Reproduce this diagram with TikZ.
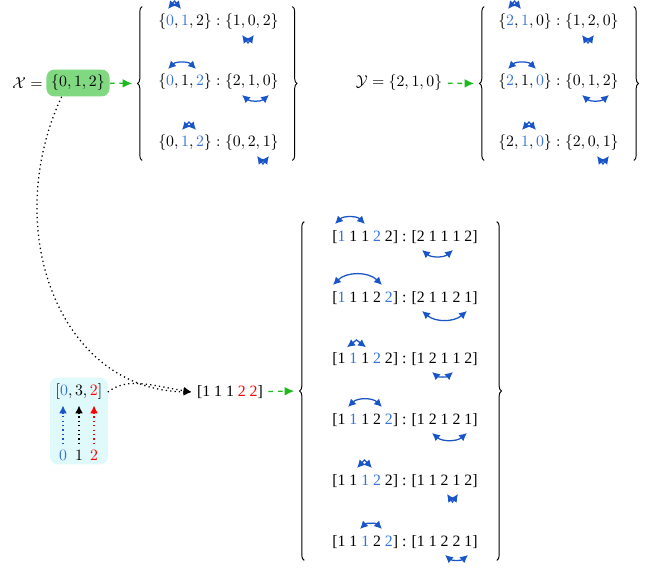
\documentclass[tikz,border=0pt]{standalone}
\usepackage{amsmath}
\usepackage{amssymb}
\usepackage{fontspec}
\usepackage{tikz}
\usetikzlibrary{arrows.meta}
\usetikzlibrary{positioning}
\usetikzlibrary{decorations.pathreplacing}
\newfontfamily\tms{Liberation Serif}
\definecolor{mblue}{RGB}{25, 85, 200}
\definecolor{dblue}{RGB}{55, 115, 215}
\definecolor{mgreen}{RGB}{128, 216, 128}
\definecolor{agreen}{RGB}{30, 185, 30}
\definecolor{mcyan}{RGB}{224, 250, 252}
\newcommand{\bdig}[1]{{\color{dblue}#1}}
\newcommand{\rdig}[1]{{\color{red}#1}}
\tikzset{>={Latex[length=5pt, width=5pt]},
         swp/.style = {mblue, thick, <->},
         gdash/.style = {agreen, thick, dash pattern=on 3pt off 3pt,
                         -{Latex[length=6pt, width=5.5pt]}, shorten >=3pt},
         dcurve/.style = {thick, dotted, ->},
         xbox/.style = {fill=mgreen, rounded corners=5pt, inner xsep=3pt, inner ysep=3.5pt},
         cbox/.style = {fill=mcyan, rounded corners=5pt, minimum width=36.7pt, minimum height=55pt},
         bnode/.style = {inner sep=0pt, minimum width=3pt},
         brc/.style = {semithick, decorate, decoration={brace, amplitude=3pt}},
         setrow/.style = {anchor=west, inner sep=0pt}}

\begin{document}
\begin{tikzpicture}[x=0.633pt, y=-0.633pt]
    \useasboundingbox (0, 0) rectangle (663, 570);

    % X and its swaps
    \node [xbox] (xset) at (78, 83) {$\{0,1,2\}$};
    \node [left=0pt of xset, inner xsep=2pt] (xlab) {$\mathcal{X} =$};
    \node [bnode, minimum height=97pt] (lbx) at (139.5, 83.5) {};
    \node [bnode, minimum height=97pt] (rbx) at (295, 83.5) {};
    \draw [brc] (lbx.south east) -- (lbx.north east);
    \draw [brc] (rbx.north west) -- (rbx.south west);
    \node [setrow] (x1) at (158, 22) {$\{\bdig{0},\bdig{1},2\}:\{1,0,2\}$};
    \node [setrow] (x2) at (158, 82) {$\{\bdig{0},1,\bdig{2}\}:\{2,1,0\}$};
    \node [setrow] (x3) at (158, 143) {$\{0,\bdig{1},\bdig{2}\}:\{0,2,1\}$};
    \draw [gdash] (xset) -- (lbx);

    % Y and its swaps
    \node (yset) at (399, 83) {$\mathcal{Y} = \{2,1,0\}$};
    \node [bnode, minimum height=97pt] (lby) at (481.5, 83.5) {};
    \node [bnode, minimum height=97pt] (rby) at (636.5, 83.5) {};
    \draw [brc] (lby.south east) -- (lby.north east);
    \draw [brc] (rby.north west) -- (rby.south west);
    \node [setrow] (y1) at (498, 22) {$\{\bdig{2},\bdig{1},0\}:\{1,2,0\}$};
    \node [setrow] (y2) at (498, 82) {$\{\bdig{2},1,\bdig{0}\}:\{0,1,2\}$};
    \node [setrow] (y3) at (498, 143) {$\{2,\bdig{1},\bdig{0}\}:\{2,0,1\}$};
    \draw [gdash] (yset) -- (lby);

    % multiplicities
    \node [cbox] (cbx) at (79, 421) {};
    \node (vec0) at (79, 392) {$[\bdig{0},3,\rdig{2}]$};
    \node (i0) at (63, 455) {\bdig{0}};
    \node (i1) at (79, 455) {1};
    \node (i2) at (94, 455) {\rdig{2}};
    \foreach \n/\c in {i0/mblue, i1/black, i2/red}
      \draw [thick, dotted, ->, \c] (\n.north) -- (\n.north |- vec0.south);

    % the multiset and its swaps
    \node (vec) at (230, 392) {\tms [1 1 1 \rdig{2} \rdig{2}]};
    \node [bnode, minimum height=214pt] (lbv) at (301.5, 391) {};
    \node [bnode, minimum height=214pt] (rbv) at (499.5, 391) {};
    \draw [brc] (lbv.south east) -- (lbv.north east);
    \draw [brc] (rbv.north west) -- (rbv.south west);
    \node [setrow] (v1) at (332, 237) {\tms [\bdig{1} 1 1 \bdig{2} 2] : [2 1 1 1 2]};
    \node [setrow] (v2) at (332, 298) {\tms [\bdig{1} 1 1 2 \bdig{2}] : [2 1 1 2 1]};
    \node [setrow] (v3) at (332, 359) {\tms [1 \bdig{1} 1 \bdig{2} 2] : [1 2 1 1 2]};
    \node [setrow] (v4) at (332, 420) {\tms [1 \bdig{1} 1 2 \bdig{2}] : [1 2 1 2 1]};
    \node [setrow] (v5) at (332, 481) {\tms [1 1 \bdig{1} \bdig{2} 2] : [1 1 2 1 2]};
    \node [setrow] (v6) at (332, 542) {\tms [1 1 \bdig{1} 2 \bdig{2}] : [1 1 2 2 1]};
    \draw [gdash] (vec) -- (lbv);

    \draw [dcurve] (xset.220) .. controls +(-62, 133) and +(-132, -2) .. (vec.west);
    \draw [dcurve] (vec0.east) .. controls +(20, -15) and +(-42, -7) .. (vec.west);

    % long swaps, above and below the rows
    \foreach \rw/\a/\b in {x2/10/38, y2/10/38, v1/3/33, v2/1/50, v4/16/50, v6/28/50}
      \draw [swp] ([shift={(\a, -13)}]\rw.west) to[bend left=45] ([shift={(\b, -13)}]\rw.west);
    \foreach \rw/\a/\b in {x2/84/111, y2/84/111, v1/90/121, v2/90/135, v3/100/121,
                           v4/100/135, v6/113/136}
      \draw [swp] ([shift={(\a, 13)}]\rw.west) to[bend right=40] ([shift={(\b, 13)}]\rw.west);
    % short swaps, where the two tips meet
    \foreach \rw/\a/\b/\h in {x1/10/23/-21, x3/24/38/-21, y1/10/23/-21, y3/24/38/-21,
                              v3/15/34/-19, v5/25/40/-21,
                              x1/84/96/21, x3/99/111/21, y1/84/96/21, y3/99/111/21, v5/115/126/21}
      \draw [swp] ([shift={(\a, {\h*13/21})}]\rw.west) -- ([shift={({(\a+\b)/2}, \h)}]\rw.west)
                  -- ([shift={(\b, {\h*13/21})}]\rw.west);
  \end{tikzpicture}
\end{document}
